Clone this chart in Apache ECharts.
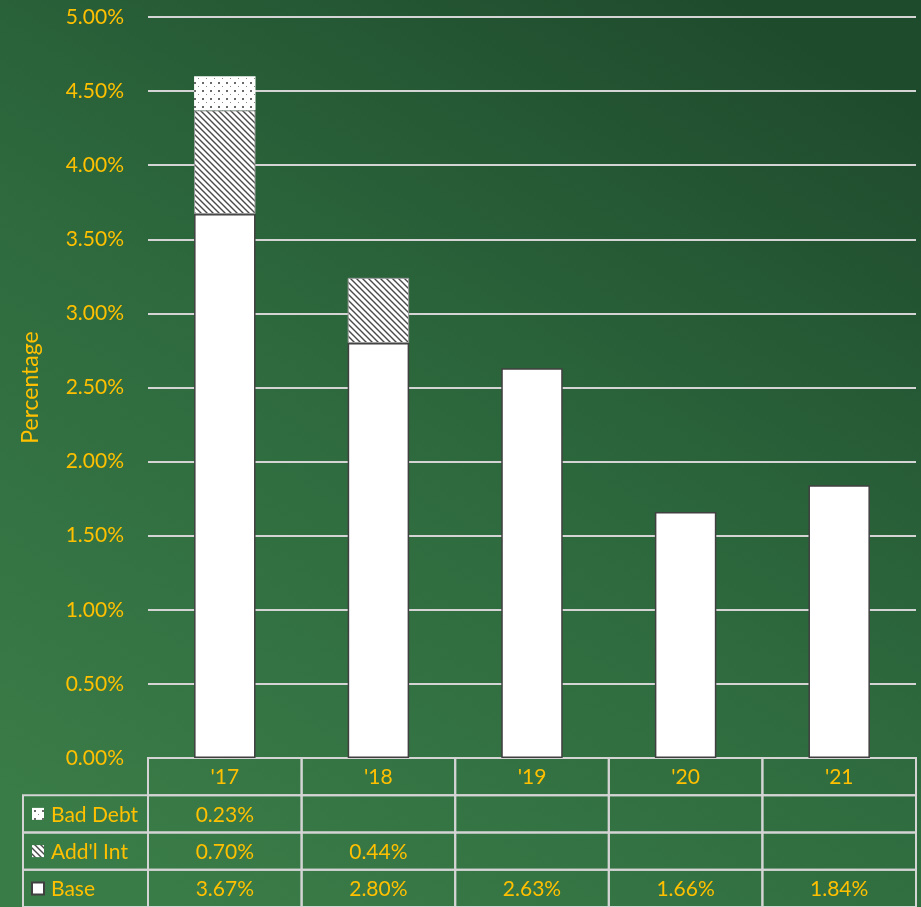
<!DOCTYPE html>
<html>
<head>
<meta charset="utf-8">
<script src="https://cdn.jsdelivr.net/npm/echarts@6/dist/echarts.min.js"></script>
<style>
  html, body { margin: 0; padding: 0; }
  #chart { width: 921px; height: 907px; }
</style>
</head>
<body>
<div id="chart"></div>
<script>
// Yearly rate components (percent)
const categories = ["'17", "'18", "'19", "'20", "'21"];
const base = [3.67, 2.80, 2.63, 1.66, 1.84];
const addlInt = [0.70, 0.44, null, null, null];
const badDebt = [0.23, null, null, null, null];
const yTicks = [0, 0.5, 1, 1.5, 2, 2.5, 3, 3.5, 4, 4.5, 5];

const GOLD = '#FFC000';
const LINE = '#d4d4d4';
const FONT = 'Lato';
const FS = 21;

// Fill patterns drawn on small canvases and tiled
function hatchCanvas() {
  const c = document.createElement('canvas');
  c.width = 6; c.height = 6;
  const g = c.getContext('2d');
  g.fillStyle = '#ffffff';
  g.fillRect(0, 0, 6, 6);
  g.strokeStyle = '#4a4a4a';
  g.lineWidth = 1.4;
  g.beginPath();
  g.moveTo(-1, -1); g.lineTo(7, 7);
  g.moveTo(-4, 2); g.lineTo(1, 7);
  g.moveTo(5, -1); g.lineTo(8, 2);
  g.stroke();
  return c;
}
function dotCanvas() {
  const c = document.createElement('canvas');
  c.width = 8; c.height = 8;
  const g = c.getContext('2d');
  g.fillStyle = '#ffffff';
  g.fillRect(0, 0, 8, 8);
  g.fillStyle = '#6a6a6a';
  g.fillRect(2, 2, 2, 2);
  g.fillStyle = '#8a8a8a';
  g.fillRect(6, 6, 1, 1);
  return c;
}
const hatchFill = { image: hatchCanvas(), repeat: 'repeat' };
const dotFill = { image: dotCanvas(), repeat: 'repeat' };
const keyStyles = {
  'Bad Debt': { fill: dotFill, stroke: null },
  "Add'l Int": { fill: hatchFill, stroke: null },
  'Base': { fill: '#ffffff', stroke: '#404040' }
};

// Table rows: header, then one row per series (top to bottom)
const tableRows = ['header', 'Bad Debt', "Add'l Int", 'Base'];
const rowValues = { 'Bad Debt': badDebt, "Add'l Int": addlInt, 'Base': base };
const LEGEND_COL_W = 125;

const cells = [];
tableRows.forEach((row, r) => {
  categories.forEach((cat, c) => {
    let text = '';
    if (row === 'header') text = cat;
    else {
      const v = rowValues[row][c];
      text = v == null ? '' : v.toFixed(2) + '%';
    }
    cells.push({ col: c, row: r, text: text, legend: false });
  });
  if (row !== 'header') cells.push({ col: 0, row: r, text: row, legend: true });
});

function renderCell(params, api) {
  const cell = cells[params.dataIndex];
  const center = api.coord([cell.col, cell.row]);
  const size = api.size([1, 1]);
  let x0 = center[0] - size[0] / 2;
  const y0 = center[1] - size[1] / 2;
  let w = size[0];
  const h = size[1];
  const children = [];
  if (cell.legend) {
    x0 = x0 - LEGEND_COL_W;
    w = LEGEND_COL_W;
  }
  children.push({
    type: 'rect',
    shape: { x: x0, y: y0, width: w, height: h },
    style: { fill: null, stroke: LINE, lineWidth: 2 }
  });
  if (cell.legend) {
    const ks = keyStyles[cell.text];
    children.push({
      type: 'rect',
      shape: { x: x0 + 9, y: center[1] - 6, width: 12, height: 12 },
      style: { fill: ks.fill, stroke: ks.stroke, lineWidth: ks.stroke ? 2 : 0 }
    });
    children.push({
      type: 'text',
      style: {
        text: cell.text, x: x0 + 28, y: center[1] + 1,
        align: 'left', verticalAlign: 'middle',
        fill: GOLD, font: FS + 'px ' + FONT
      }
    });
  } else if (cell.text) {
    children.push({
      type: 'text',
      style: {
        text: cell.text, x: center[0], y: center[1] + 1,
        align: 'center', verticalAlign: 'middle',
        fill: GOLD, font: FS + 'px ' + FONT
      }
    });
  }
  return { type: 'group', children: children };
}

const chart = echarts.init(document.getElementById('chart'), null, { renderer: 'canvas' });
chart.setOption({
  animation: false,
  backgroundColor: {
    type: 'linear', x: 0.2, y: 1, x2: 0.8, y2: 0,
    colorStops: [
      { offset: 0, color: '#3a7c48' },
      { offset: 0.5, color: '#2d693d' },
      { offset: 1, color: '#1f4b2d' }
    ]
  },
  textStyle: { fontFamily: FONT },
  grid: [
    { left: 148, right: 5, top: 17, height: 741 },
    { left: 148, right: 5, top: 758, height: 151 }
  ],
  xAxis: [
    {
      gridIndex: 0, type: 'category', data: categories,
      axisLine: { show: false }, axisTick: { show: false }, axisLabel: { show: false }
    },
    {
      gridIndex: 1, type: 'category', data: categories,
      axisLine: { show: false }, axisTick: { show: false }, axisLabel: { show: false }
    }
  ],
  yAxis: [
    {
      gridIndex: 0, type: 'value', min: yTicks[0], max: yTicks[yTicks.length - 1], interval: 0.5,
      name: 'Percentage', nameLocation: 'middle', nameGap: 106, nameRotate: 90,
      nameTextStyle: { color: GOLD, fontSize: 23, fontFamily: FONT },
      axisLine: { show: false }, axisTick: { show: false },
      axisLabel: {
        color: GOLD, fontSize: FS, fontFamily: FONT, margin: 24,
        formatter: v => v.toFixed(2) + '%'
      },
      splitLine: { lineStyle: { color: LINE, width: 2 } }
    },
    {
      gridIndex: 1, type: 'category', data: tableRows, inverse: true,
      axisLine: { show: false }, axisTick: { show: false }, axisLabel: { show: false },
      splitLine: { show: false }
    }
  ],
  series: [
    {
      name: 'Base', type: 'bar', stack: 'total', xAxisIndex: 0, yAxisIndex: 0,
      barWidth: '40%', data: base,
      itemStyle: { color: '#ffffff', borderColor: '#404040', borderWidth: 1.5 }
    },
    {
      name: "Add'l Int", type: 'bar', stack: 'total', xAxisIndex: 0, yAxisIndex: 0,
      barWidth: '40%', data: addlInt,
      itemStyle: { color: hatchFill, borderColor: '#9a9a9a', borderWidth: 1 }
    },
    {
      name: 'Bad Debt', type: 'bar', stack: 'total', xAxisIndex: 0, yAxisIndex: 0,
      barWidth: '40%', data: badDebt,
      itemStyle: { color: dotFill, borderWidth: 0 }
    },
    {
      name: 'table', type: 'custom', xAxisIndex: 1, yAxisIndex: 1,
      coordinateSystem: 'cartesian2d', clip: false, silent: true,
      data: cells.map(c => [c.col, c.row]),
      renderItem: renderCell
    }
  ]
});
</script>
</body>
</html>
